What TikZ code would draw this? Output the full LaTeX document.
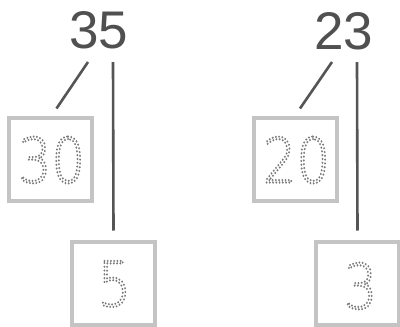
\documentclass[tikz,border=0pt]{standalone}
\usepackage{fontspec}
\setmainfont{Liberation Sans}
\newfontfamily\thinfont{DejaVu Sans ExtraLight}
\definecolor{numgray}{HTML}{505050}
\definecolor{linegray}{HTML}{555555}
\definecolor{boxgray}{HTML}{C4C4C4}
\definecolor{dotgray}{HTML}{7A7A7A}
\newcommand\dottedtext[1]{\special{pdf:literal direct 1 Tr [0 3.8] 0 d 1 J 1 j 2.4 w}#1\special{pdf:literal direct 0 Tr [] 0 d 0 J 0 j}}
\tikzset{
  num/.style={anchor=base,inner sep=0pt,text=numgray,font=\fontsize{53}{60}\selectfont},
  tracebox/.style={draw=boxgray,line width=4pt,minimum width=83pt,minimum height=83pt,inner sep=0pt},
  trace/.style={inner sep=0pt,text=dotgray,font=\thinfont\fontsize{62}{70}\selectfont},
  link/.style={draw=linegray,line width=2.6pt}
}
\begin{document}
\begin{tikzpicture}[x=1pt,y=-1pt]
\useasboundingbox (0,0) rectangle (400,327);
\node[num] (n35) at (99,48) {35};
\node[num] (n23) at (344,49) {23};
\node[tracebox] (b30) at (50.5,159) {};
\node[tracebox] (b5) at (113.5,283) {};
\node[tracebox] (b20) at (295,159) {};
\node[tracebox] (b3) at (357.5,283) {};
\node[trace] (t30) at (51.5,160) {\scalebox{0.85}[1]{\dottedtext{30}}};
\node[trace] (t5) at (114.5,284) {\scalebox{0.85}[1]{\dottedtext{5}}};
\node[trace] (t20) at (296.5,160) {\scalebox{0.85}[1]{\dottedtext{20}}};
\node[trace] (t3) at (360.5,286) {\scalebox{0.85}[1]{\dottedtext{3}}};
\draw[link] ([xshift=-11pt,yshift=-14pt]n35.base) -- ([xshift=6pt,yshift=7pt]b30.north);
\draw[link] ([xshift=14pt,yshift=-14pt]n35.base) -- ([yshift=9pt]b5.north);
\draw[link] ([xshift=-12pt,yshift=-13pt]n23.base) -- ([xshift=5pt,yshift=7pt]b20.north);
\draw[link] ([xshift=13pt,yshift=-13pt]n23.base) -- ([yshift=9pt]b3.north);
\end{tikzpicture}
\end{document}
